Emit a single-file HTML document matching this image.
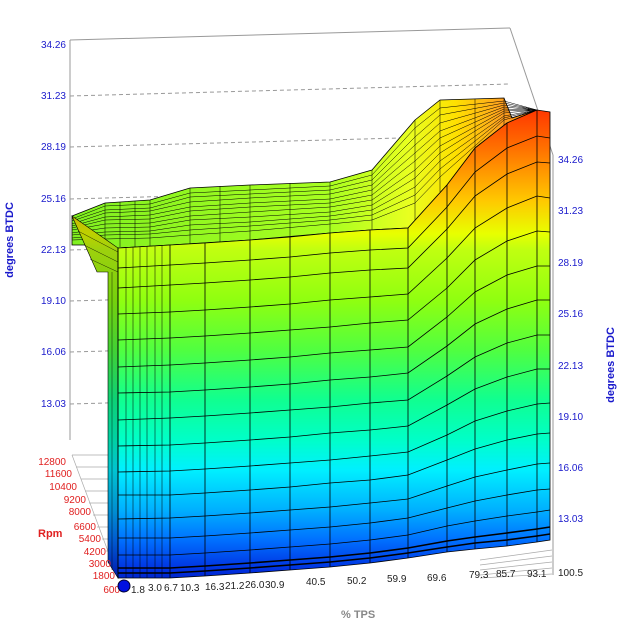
<!DOCTYPE html>
<html><head><meta charset="utf-8"><style>
html,body{margin:0;padding:0;background:#fff;}
svg{display:block;font-family:"Liberation Sans",sans-serif;}
</style></head><body>
<svg width="619" height="627" viewBox="0 0 619 627" xmlns="http://www.w3.org/2000/svg">
<defs>
<linearGradient id="fg" gradientUnits="userSpaceOnUse" x1="0" y1="105" x2="0" y2="582">
<stop offset="0" stop-color="#ff3000"/>
<stop offset="0.09" stop-color="#ff7000"/>
<stop offset="0.2" stop-color="#ffc800"/>
<stop offset="0.27" stop-color="#e8ff00"/>
<stop offset="0.304" stop-color="#c0ff10"/>
<stop offset="0.409" stop-color="#90ff10"/>
<stop offset="0.514" stop-color="#50ff40"/>
<stop offset="0.618" stop-color="#10ff90"/>
<stop offset="0.702" stop-color="#00ffc8"/>
<stop offset="0.765" stop-color="#00f0ff"/>
<stop offset="0.849" stop-color="#00b0ff"/>
<stop offset="0.912" stop-color="#0070ff"/>
<stop offset="0.975" stop-color="#0030e0"/>
<stop offset="1" stop-color="#0020c0"/>
</linearGradient>
<linearGradient id="tg" gradientUnits="userSpaceOnUse" x1="72" y1="0" x2="540" y2="0">
<stop offset="0" stop-color="#80f020"/>
<stop offset="0.55" stop-color="#a8ff20"/>
<stop offset="0.72" stop-color="#e8ff20"/>
<stop offset="0.82" stop-color="#ffe000"/>
<stop offset="0.92" stop-color="#ffa020"/>
<stop offset="1" stop-color="#ff8000"/>
</linearGradient>
</defs>
<g stroke="#999" fill="none" stroke-width="1">
<line x1="70" y1="40" x2="70" y2="440"/>
<line x1="70" y1="40" x2="510" y2="28"/>
<line x1="510" y1="28" x2="553" y2="155"/>
<line x1="553" y1="155" x2="553" y2="575"/>
</g>
<g stroke="#999" stroke-dasharray="4,3" fill="none">
<line x1="70" y1="96" x2="510" y2="84"/>
<line x1="70" y1="147" x2="510" y2="135"/>
<line x1="70" y1="199" x2="510" y2="187"/>
<line x1="70" y1="250" x2="510" y2="238"/>
<line x1="70" y1="301" x2="510" y2="289"/>
<line x1="70" y1="352" x2="510" y2="340"/>
<line x1="70" y1="404" x2="510" y2="392"/>
</g>
<g stroke="#aaa" fill="none" stroke-width="0.7">
<line x1="72" y1="455" x2="112" y2="455"/>
<line x1="76" y1="467" x2="112" y2="467"/>
<line x1="81" y1="479" x2="112" y2="479"/>
<line x1="85" y1="491" x2="112" y2="491"/>
<line x1="89" y1="503" x2="112" y2="503"/>
<line x1="93" y1="515" x2="112" y2="515"/>
<line x1="97" y1="527" x2="112" y2="527"/>
<line x1="102" y1="539" x2="112" y2="539"/>
<line x1="106" y1="551" x2="112" y2="551"/>
<line x1="110" y1="563" x2="114" y2="563"/>
<line x1="72" y1="455" x2="118" y2="578"/>
<line x1="480" y1="560" x2="552" y2="550"/>
<line x1="480" y1="565" x2="552" y2="556"/>
<line x1="480" y1="570" x2="552" y2="562"/>
<line x1="480" y1="575" x2="552" y2="568"/>
<line x1="480" y1="578" x2="552" y2="574"/>
</g>
<!-- top region -->
<polygon points="72,216 105,203 150,200 190,188 250,185 330,182 372,170 415,120 440,100 504,98 512,118 537,110 507,123 475,148 447,185 408,228 370,230 330,233 250,240 170,245 118,248 100,245 72,245" fill="url(#tg)" stroke="#000" stroke-width="0.8"/>
<g fill="none" stroke="#000" stroke-width="0.5">
<polyline points="72,219 105,206 150,204 190,193 250,190 330,186 372,175 415,128 440,108 504,101 537,110"/>
<polyline points="72,221 105,210 150,208 190,197 250,194 330,190 372,180 415,137 440,115 504,103 537,110"/>
<polyline points="72,224 105,213 150,211 190,202 250,198 330,194 372,185 415,145 440,123 504,105 537,110"/>
<polyline points="72,226 105,217 150,215 190,207 250,203 330,199 372,190 415,153 440,131 504,107 537,110"/>
<polyline points="72,228 105,220 150,219 190,211 250,207 330,203 372,195 415,161 440,138 504,109 537,110"/>
<polyline points="72,230 105,224 150,223 190,216 250,212 330,207 372,200 415,170 440,146 504,111 537,110"/>
<polyline points="72,233 105,228 150,227 190,220 250,217 330,212 372,205 415,178 440,153 504,113 537,110"/>
<polyline points="72,235 105,232 150,231 190,225 250,222 330,216 372,210 415,187 440,161 504,116 537,110"/>
<polyline points="72,238 105,235 150,234 190,230 250,226 330,220 372,215 415,195 440,169 504,118 537,110"/>
<polyline points="72,240 105,239 150,238 190,235 250,231 330,224 372,220 415,203 440,177 504,120 537,110"/>
<line x1="105" y1="203" x2="105" y2="246"/>
<line x1="120" y1="202" x2="120" y2="247"/>
<line x1="135" y1="201" x2="135" y2="247"/>
<line x1="150" y1="200" x2="150" y2="246"/>
<line x1="190" y1="188" x2="190" y2="244"/>
<line x1="220" y1="186" x2="220" y2="242"/>
<line x1="250" y1="185" x2="250" y2="240"/>
<line x1="290" y1="183" x2="290" y2="237"/>
<line x1="330" y1="182" x2="330" y2="233"/>
<line x1="372" y1="170" x2="372" y2="230"/>
<line x1="415" y1="120" x2="415" y2="220"/>
<line x1="440" y1="100" x2="440" y2="192"/>
<line x1="475" y1="99" x2="475" y2="148"/>
<line x1="504" y1="98" x2="504" y2="125"/>
</g>
<!-- left wall -->
<polygon points="72,216 118,248 118,578 108,562 108,272 97,272" fill="url(#fg)" stroke="#000" stroke-width="0.6"/>
<polygon points="72,216 118,248 118,578 108,562 108,272 97,272" fill="#000" fill-opacity="0.18"/>
<g stroke="#000" stroke-width="0.4">
<line x1="78" y1="231" x2="118" y2="252"/>
<line x1="84" y1="245" x2="118" y2="262"/>
<line x1="90" y1="259" x2="118" y2="272"/>
<line x1="112" y1="272" x2="112" y2="570"/>
</g>
<!-- front face -->
<polygon points="118,248 170,245 205,243 250,240 290,237 330,233 370,230 408,228 447,185 475,148 507,123 537,110 550,112 550,540 537,542 507,546 475,549 447,552 408,558 370,563 330,567 290,570 250,573 205,576 170,578 118,578" fill="url(#fg)" stroke="#000" stroke-width="0.8"/>
<g fill="none" stroke="#000" stroke-width="0.8">
<polyline points="118,568 170,568 205,566 250,563 290,560 330,557 370,553 408,548 447,541 475,537 507,533 537,529 550,527" stroke-width="1.6"/>
<polyline points="118,573 170,573 205,571 250,568 290,565 330,562 370,558 408,553 447,547 475,543 507,540 537,536 550,534" stroke-width="1.6"/>
<polyline points="118,555 170,555 205,553 250,550 290,547 330,544 370,540 408,535 447,526 475,521 507,516 537,512 550,510"/>
<polyline points="118,538 170,538 205,536 250,533 290,530 330,527 370,523 408,518 447,508 475,501 507,495 537,490 550,489"/>
<polyline points="118,519 170,518 205,516 250,513 290,510 330,507 370,503 408,499 447,486 475,477 507,470 537,464 550,463"/>
<polyline points="118,495 170,495 205,493 250,490 290,487 330,483 370,480 408,475 447,460 475,449 507,440 537,434 550,433"/>
<polyline points="118,472 170,471 205,469 250,466 290,463 330,460 370,456 408,452 447,435 475,421 507,411 537,404 550,403"/>
<polyline points="118,446 170,445 205,443 250,440 290,437 330,433 370,430 408,426 447,405 475,389 507,377 537,369 550,369"/>
<polyline points="118,420 170,418 205,416 250,413 290,410 330,407 370,403 408,400 447,376 475,357 507,343 537,335 550,335"/>
<polyline points="118,393 170,392 205,390 250,387 290,384 330,380 370,377 408,373 447,346 475,324 507,309 537,300 550,300"/>
<polyline points="118,367 170,365 205,363 250,360 290,357 330,353 370,350 408,347 447,317 475,292 507,275 537,266 550,266"/>
<polyline points="118,340 170,338 205,336 250,333 290,330 330,327 370,323 408,320 447,288 475,260 507,241 537,231 550,232"/>
<polyline points="118,314 170,312 205,310 250,307 290,304 330,300 370,297 408,294 447,258 475,228 507,208 537,196 550,198"/>
<polyline points="118,288 170,285 205,283 250,280 290,277 330,273 370,270 408,268 447,229 475,196 507,174 537,162 550,163"/>
<polyline points="118,268 170,265 205,263 250,260 290,257 330,253 370,250 408,248 447,207 475,172 507,148 537,136 550,138"/>
<line x1="118" y1="248" x2="118" y2="578"/>
<line x1="170" y1="245" x2="170" y2="578"/>
<line x1="205" y1="243" x2="205" y2="576"/>
<line x1="250" y1="240" x2="250" y2="573"/>
<line x1="290" y1="237" x2="290" y2="570"/>
<line x1="330" y1="233" x2="330" y2="567"/>
<line x1="370" y1="230" x2="370" y2="563"/>
<line x1="408" y1="228" x2="408" y2="558"/>
<line x1="447" y1="185" x2="447" y2="552"/>
<line x1="475" y1="148" x2="475" y2="549"/>
<line x1="507" y1="123" x2="507" y2="546"/>
<line x1="537" y1="110" x2="537" y2="542"/>
</g>
<g stroke="#000" stroke-width="0.5">
<line x1="126" y1="248" x2="126" y2="578"/>
<line x1="133" y1="247" x2="133" y2="578"/>
<line x1="140" y1="247" x2="140" y2="578"/>
<line x1="147" y1="246" x2="147" y2="578"/>
<line x1="155" y1="246" x2="155" y2="578"/>
<line x1="162" y1="245" x2="162" y2="578"/>
</g>
<g font-size="10" fill="#1a1acc">
<text x="66" y="48" text-anchor="end">34.26</text>
<text x="66" y="99" text-anchor="end">31.23</text>
<text x="66" y="150" text-anchor="end">28.19</text>
<text x="66" y="202" text-anchor="end">25.16</text>
<text x="66" y="253" text-anchor="end">22.13</text>
<text x="66" y="304" text-anchor="end">19.10</text>
<text x="66" y="355" text-anchor="end">16.06</text>
<text x="66" y="407" text-anchor="end">13.03</text>
<text x="558" y="163">34.26</text>
<text x="558" y="214">31.23</text>
<text x="558" y="266">28.19</text>
<text x="558" y="317">25.16</text>
<text x="558" y="369">22.13</text>
<text x="558" y="420">19.10</text>
<text x="558" y="471">16.06</text>
<text x="558" y="522">13.03</text>
</g>
<text x="558" y="576" font-size="10" fill="#222">100.5</text>
<g font-size="10" fill="#e02020" text-anchor="end">
<text x="66" y="465">12800</text>
<text x="72" y="477">11600</text>
<text x="77" y="490">10400</text>
<text x="86" y="503">9200</text>
<text x="91" y="515">8000</text>
<text x="96" y="530">6600</text>
<text x="101" y="542">5400</text>
<text x="106" y="555">4200</text>
<text x="111" y="567">3000</text>
<text x="115" y="579">1800</text>
<text x="120" y="593">600</text>
</g>
<text x="38" y="537" font-size="11" font-weight="bold" fill="#e02020">Rpm</text>
<g font-size="10" fill="#222">
<text x="131" y="593">1.8</text><text x="148" y="591">3.0</text><text x="164" y="591">6.7</text><text x="180" y="591">10.3</text>
<text x="205" y="590">16.3</text><text x="225" y="589">21.2</text><text x="245" y="588">26.0</text><text x="265" y="588">30.9</text>
<text x="306" y="585">40.5</text><text x="347" y="584">50.2</text><text x="387" y="582">59.9</text><text x="427" y="581">69.6</text>
<text x="469" y="578">79.3</text><text x="496" y="577">85.7</text><text x="527" y="577">93.1</text>
</g>
<text x="341" y="618" font-size="11" font-weight="bold" fill="#888">% TPS</text>
<text transform="translate(13,240) rotate(-90)" text-anchor="middle" font-size="11" font-weight="bold" fill="#1a1acc">degrees BTDC</text>
<text transform="translate(614,365) rotate(-90)" text-anchor="middle" font-size="11" font-weight="bold" fill="#1a1acc">degrees BTDC</text>
<circle cx="124" cy="586" r="6" fill="#0010e0" stroke="#000030" stroke-width="1"/>
</svg>
</body></html>
